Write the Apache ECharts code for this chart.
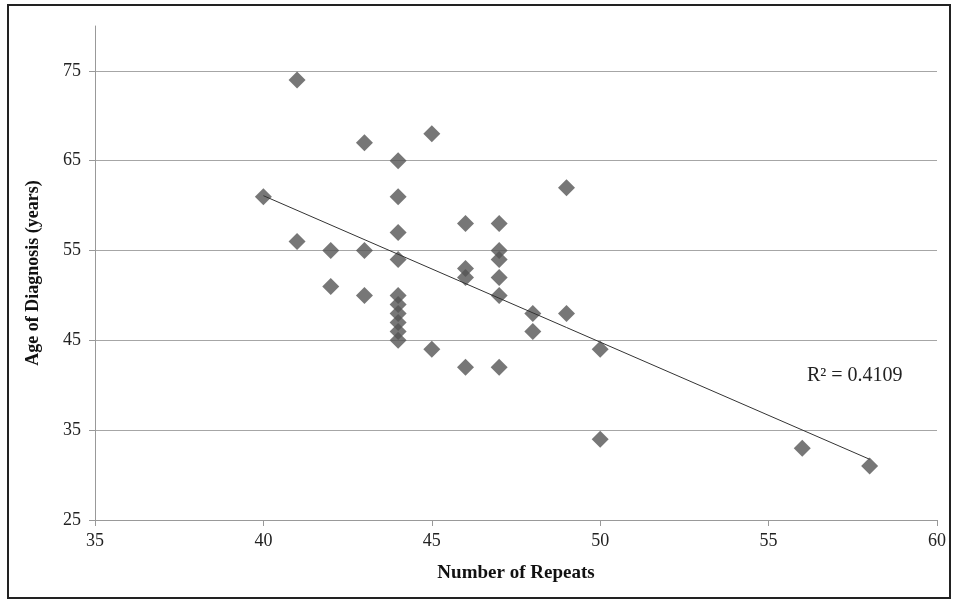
<!DOCTYPE html>
<html><head><meta charset="utf-8">
<script src="https://cdn.jsdelivr.net/npm/echarts@6/dist/echarts.min.js"></script>
<style>
html,body{margin:0;padding:0;background:#fff;}
#frame{position:absolute;left:7px;top:4px;width:944px;height:595px;border:2px solid #222;box-sizing:border-box;}
#chart{position:absolute;left:0;top:0;width:961px;height:605px;}
</style></head>
<body>
<div id="frame"></div>
<div id="chart"></div>
<script>
const repeats = [40,41,41,42,42,43,43,43,44,44,44,44,44,44,44,44,44,44,45,45,46,46,46,46,47,47,47,47,47,47,48,48,49,49,50,50,56,58];
const ages    = [61,74,56,55,51,67,55,50,65,61,57,54,50,49,48,47,46,45,68,44,58,53,52,42,58,55,54,52,50,42,48,46,62,48,44,34,33,31];
const yTicks = [25,35,45,55,65,75];
const xTicks = [35,40,45,50,55,60];
const r2Text = 'R² = 0.4109';

// least-squares trendline from the data
const n = repeats.length;
const mx = repeats.reduce((a,b)=>a+b,0)/n;
const my = ages.reduce((a,b)=>a+b,0)/n;
let sxy=0,sxx=0;
for(let i=0;i<n;i++){sxy+=(repeats[i]-mx)*(ages[i]-my);sxx+=(repeats[i]-mx)**2;}
const slope=sxy/sxx, icpt=my-slope*mx;
const xMin=Math.min(...repeats), xMax=Math.max(...repeats);
const trend=[[xMin,icpt+slope*xMin],[xMax,icpt+slope*xMax]];

const chart = echarts.init(document.getElementById('chart'));
const serif = 'Liberation Serif';
chart.setOption({
  animation:false,
  grid:{left:95,right:24,top:26,bottom:85},
  xAxis:{type:'value',min:35,max:60,interval:5,
    name:'Number of Repeats',nameLocation:'middle',nameGap:44,
    nameTextStyle:{fontFamily:serif,fontWeight:'bold',fontSize:19,color:'#111'},
    axisLine:{show:true,lineStyle:{color:'#999'}},
    axisTick:{show:true,length:6,customValues:xTicks,lineStyle:{color:'#999'}},
    axisLabel:{fontFamily:serif,fontSize:18,color:'#222',margin:12,customValues:xTicks},
    splitLine:{show:false}},
  yAxis:{type:'value',min:25,max:80,interval:10,
    name:'Age of Diagnosis (years)',nameLocation:'middle',nameGap:53,
    nameTextStyle:{fontFamily:serif,fontWeight:'bold',fontSize:18,color:'#111'},
    axisLine:{show:true,lineStyle:{color:'#999'}},
    axisTick:{show:true,length:6,customValues:yTicks,lineStyle:{color:'#999'}},
    axisLabel:{fontFamily:serif,fontSize:18,color:'#222',margin:14,customValues:yTicks},
    splitLine:{show:true,lineStyle:{color:'#a6a6a6',width:1}}},
  series:[
    {type:'line',data:trend,symbol:'none',lineStyle:{color:'#333',width:1},z:3,silent:true},
    {type:'scatter',data:repeats.map((x,i)=>[x,ages[i]]),symbol:'diamond',symbolSize:[17,17],
     itemStyle:{color:'#555555'},z:2}
  ],
  graphic:[{type:'text',left:807,top:366,style:{text:r2Text,fontFamily:serif,fontSize:20,fill:'#222'}}]
});
</script>
</body></html>
